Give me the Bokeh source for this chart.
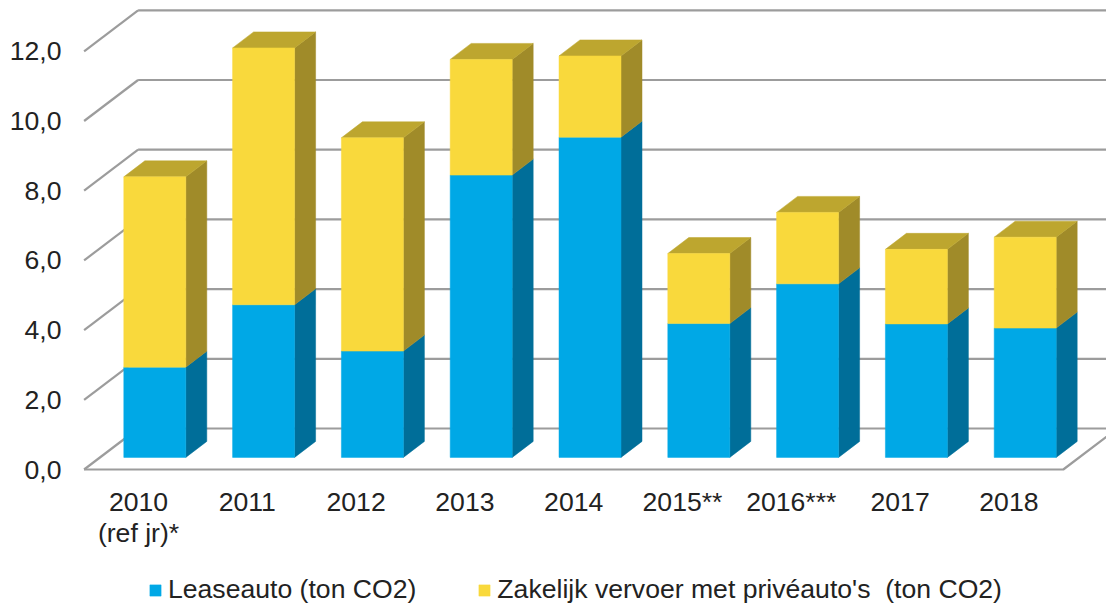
from bokeh.plotting import figure
from bokeh.models import Range1d, FixedTicker, Legend, LegendItem
from bokeh.embed import file_html
from bokeh.resources import INLINE

categories = ["2010\n(ref jr)*", "2011", "2012", "2013", "2014", "2015**", "2016***", "2017", "2018"]
lease = [2.59, 4.38, 3.05, 8.10, 9.19, 3.84, 4.98, 3.83, 3.71]
totals = [8.05, 11.75, 9.17, 11.42, 11.52, 5.85, 7.03, 5.97, 6.32]
private = [round(t - l, 2) for t, l in zip(totals, lease)]
y_ticks = [0, 2, 4, 6, 8, 10, 12]
y_labels = ["0,0", "2,0", "4,0", "6,0", "8,0", "10,0", "12,0"]
series_names = ["Leaseauto (ton CO2)", "Zakelijk vervoer met privéauto's  (ton CO2)"]

PX_X = 108.8   # pixels per category
PX_Y = 34.85   # pixels per value unit
BLUE, BLUE_SIDE = "#00A8E6", "#006E99"
YEL, YEL_SIDE, YEL_TOP = "#F9D93C", "#A08B29", "#BDA62F"
GRID = "#9C9C9C"
TXT = "#222222"
FS = "26.6px"
FONT = "Liberation Sans"

p = figure(width=1106, height=607, output_backend="svg", toolbar_location=None,
           x_range=Range1d(-138 / PX_X, (1106 - 138) / PX_X),
           y_range=Range1d(-(607 - 469) / PX_Y, 469 / PX_Y))
p.min_border_left = 0
p.min_border_right = 0
p.min_border_top = 0
p.min_border_bottom = 0
p.outline_line_color = None
p.grid.visible = False
p.background_fill_color = "white"

# axes
ya = p.yaxis[0]
ya.ticker = FixedTicker(ticks=y_ticks)
ya.major_label_overrides = dict(zip(y_ticks, y_labels))
ya.fixed_location = -(138 - 80) / PX_X
xa = p.xaxis[0]
xa.ticker = FixedTicker(ticks=list(range(len(categories))))
xa.major_label_overrides = dict(zip(range(len(categories)), categories))
xa.fixed_location = -6 / PX_Y
for a, st in ((ya, 19), (xa, 11)):
    a.axis_line_color = None
    a.major_tick_line_color = None
    a.minor_tick_line_color = None
    a.major_tick_in = 0
    a.major_tick_out = 0
    a.major_label_standoff = st
    a.major_label_text_font = FONT
    a.major_label_text_font_size = FS
    a.major_label_text_color = TXT
    a.major_label_text_line_height = 1.05

# oblique projection offsets, in data units
WALL_DX, WALL_DY = 54 / PX_X, 41 / PX_Y
BAR_DX, BAR_DY = 16.3 / PX_X, 12.1 / PX_Y
DEPTH_DX, DEPTH_DY = 21 / PX_X, 16 / PX_Y
BAR_W = 62 / PX_X
x_lo, x_hi = -0.5, 8.5

# walls
p.segment(x0=[x_lo] * 7, y0=y_ticks, x1=[x_lo + WALL_DX] * 7, y1=[t + WALL_DY for t in y_ticks],
          line_color=GRID, line_width=2.2)
p.segment(x0=[x_lo + WALL_DX] * 7, y0=[t + WALL_DY for t in y_ticks],
          x1=[x_hi + WALL_DX] * 7, y1=[t + WALL_DY for t in y_ticks],
          line_color=GRID, line_width=2.2)
p.line([x_lo, x_hi, x_hi + WALL_DX], [0, 0, WALL_DY], line_color=GRID, line_width=2.2)


def block(i, y0, y1, front, side, top=None):
    xl = i + BAR_DX - BAR_W / 2
    xr = xl + BAR_W
    yb, yt = y0 + BAR_DY, y1 + BAR_DY
    p.patch([xr, xr + DEPTH_DX, xr + DEPTH_DX, xr],
            [yb, yb + DEPTH_DY, yt + DEPTH_DY, yt], fill_color=side, line_color=side, line_width=0.5)
    if top:
        p.patch([xl, xl + DEPTH_DX, xr + DEPTH_DX, xr], [yt, yt + DEPTH_DY, yt + DEPTH_DY, yt],
                fill_color=top, line_color=top, line_width=0.5)
    return p.patch([xl, xr, xr, xl], [yb, yb, yt, yt], fill_color=front, line_color=front, line_width=0.5)


r_blue = r_yel = None
for i, (l, pr) in enumerate(zip(lease, private)):
    r_blue = block(i, 0, l, BLUE, BLUE_SIDE)
    r_yel = block(i, l, l + pr, YEL, YEL_SIDE, YEL_TOP)

legend = Legend(items=[LegendItem(label=series_names[0], renderers=[r_blue]),
                       LegendItem(label=series_names[1], renderers=[r_yel])],
                orientation="horizontal", location=(148, 2), background_fill_alpha=0,
                border_line_color=None, padding=0, margin=0, spacing=61,
                glyph_width=14, glyph_height=14, label_standoff=6,
                label_text_font=FONT, label_text_font_size=FS, label_text_color=TXT)
p.add_layout(legend, "center")

open("out.html", "w").write(file_html(p, INLINE))
